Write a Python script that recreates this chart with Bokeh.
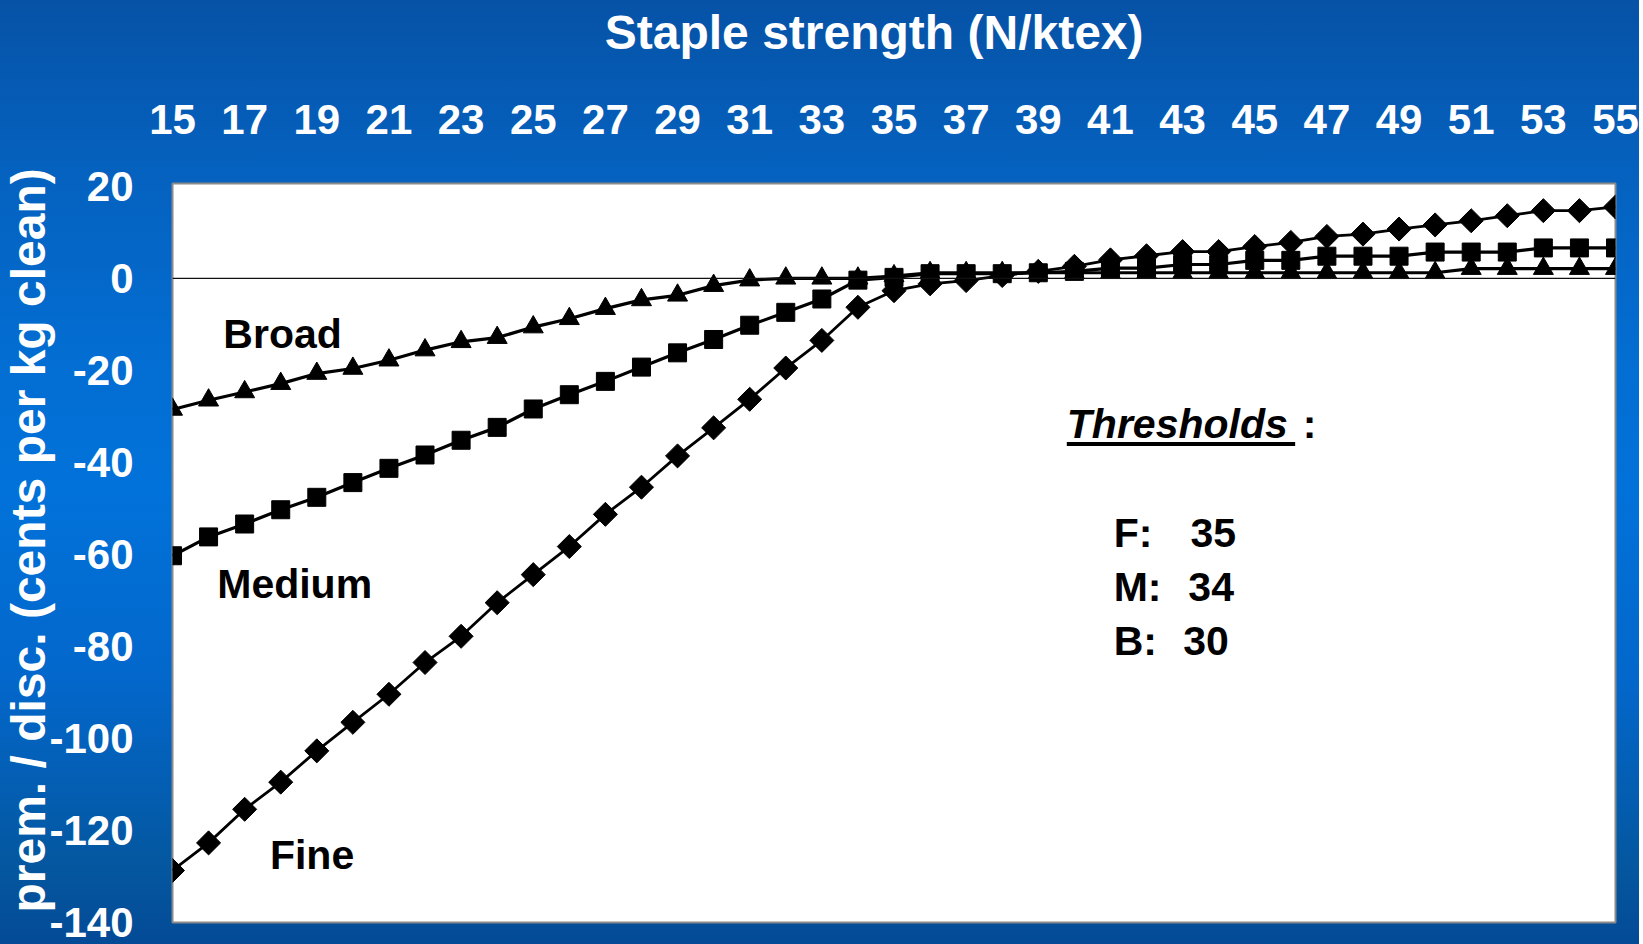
import numpy as np
from bokeh.plotting import figure
from bokeh.models import Range1d, Span, Label, FixedTicker, Title, LinearAxis
from bokeh.embed import file_html
from bokeh.resources import INLINE

# ---- data ----
strength = list(range(15, 56))
fine = [-128.7, -122.7, -115.4, -109.5, -102.7, -96.5, -90.4, -83.5, -77.8, -70.5,
        -64.4, -58.3, -51.3, -45.4, -38.6, -32.5, -26.3, -19.5, -13.5, -6.3,
        -2.7, -1.2, -0.5, 0.6, 1.5, 2.6, 4.0, 4.9, 5.8, 5.8,
        6.9, 7.8, 9.1, 9.6, 10.7, 11.6, 12.5, 13.6, 14.7, 14.7, 15.5]
medium = [-60.3, -56.2, -53.4, -50.3, -47.6, -44.4, -41.3, -38.4, -35.2, -32.4,
          -28.4, -25.3, -22.4, -19.3, -16.2, -13.3, -10.2, -7.4, -4.5, -0.4,
          0.2, 1.0, 1.0, 1.0, 1.2, 1.5, 2.2, 2.2, 3.0, 3.0,
          3.9, 3.9, 4.8, 4.8, 4.8, 5.7, 5.7, 5.7, 6.6, 6.6, 6.6]
broad = [-28.5, -26.5, -24.7, -22.9, -20.7, -19.6, -17.8, -15.6, -13.8, -12.9,
         -10.6, -8.8, -6.6, -4.7, -3.7, -1.6, -0.4, 0.0, 0.0, 0.0,
         0.5, 1.2, 1.2, 1.2, 1.2, 1.2, 1.2, 1.2, 1.2, 1.2,
         1.2, 1.2, 1.2, 1.2, 1.2, 1.2, 2.1, 2.1, 2.1, 2.1, 2.1]
x_ticks = list(range(15, 56, 2))
y_ticks = list(range(-140, 21, 20))
series_names = ["Broad", "Medium", "Fine"]
thresholds = [("F:", "35"), ("M:", "34"), ("B:", "30")]
chart_title = "Staple strength (N/ktex)"
y_title = "prem. / disc. (cents per kg clean)"

FONT = "Liberation Sans"

p = figure(width=1643, height=948,
           x_range=Range1d(15, 55), y_range=Range1d(-140, 20.6),
           x_axis_location="above",
           output_backend="svg", toolbar_location=None,
           min_border_left=176, min_border_right=24,
           min_border_top=187, min_border_bottom=22)
p.margin = (-4, -4, -8, -4)
p.styles = {"background": "linear-gradient(180deg, #0652a6 0%, #0561be 18%, #036dd2 38%, #0172da 52%, #0367cb 72%, #04579f 92%, #044a96 100%)"}
p.border_fill_color = None
p.background_fill_color = "white"
p.outline_line_color = "#8a8a8a"
p.outline_line_width = 2
p.xgrid.visible = False
p.ygrid.visible = False


def style_axis(ax, size):
    ax.axis_line_color = None
    ax.major_tick_line_color = None
    ax.minor_tick_line_color = None
    ax.major_label_text_font = FONT
    ax.major_label_text_font_style = "bold"
    ax.major_label_text_font_size = size
    ax.major_label_text_color = "white"


for ax, ticks in ((p.xaxis[0], x_ticks), (p.yaxis[0], y_ticks)):
    ax.ticker = FixedTicker(ticks=ticks)
    ax.major_label_overrides = {t: str(t) for t in ticks}
    style_axis(ax, "42px")
p.xaxis[0].major_label_standoff = 44
p.yaxis[0].major_label_standoff = 33

# chart title: a second top axis carrying a single label
title_pos = 34.45
title_axis = LinearAxis(ticker=FixedTicker(ticks=[title_pos]),
                        major_label_overrides={title_pos: chart_title})
style_axis(title_axis, "48px")
title_axis.major_label_standoff = 37
p.add_layout(title_axis, "above")

# y-axis title on the left
p.add_layout(Title(text=y_title, align="left", offset=10,
                   standoff=-16, text_font=FONT, text_font_style="bold",
                   text_font_size="48px", text_color="white"), "left")

p.add_layout(Span(location=0, dimension="width", line_color="#111111", line_width=1.3))

p.line(strength, broad, line_color="black", line_width=3.2)
p.scatter(strength, broad, marker="triangle", size=20, color="black")
p.line(strength, medium, line_color="black", line_width=3.2)
p.scatter(strength, medium, marker="square", size=18, color="black")
p.line(strength, fine, line_color="black", line_width=2.8)
p.scatter(strength, fine, marker="square", angle=np.pi / 4, size=17, color="black")

lab_kw = dict(text_font=FONT, text_font_style="bold", text_font_size="41px",
              text_color="black", text_baseline="alphabetic")
for name, (lx, ly) in zip(series_names, [(16.41, -12.0), (16.24, -66.5), (17.7, -125.4)]):
    p.add_layout(Label(x=lx, y=ly, text=name, **lab_kw))

p.add_layout(Label(x=39.79, y=-31.7, text="Thresholds", text_font=FONT,
                   text_font_style="bold italic", text_font_size="41px",
                   text_color="black", text_baseline="alphabetic"))
p.add_layout(Label(x=46.33, y=-31.7, text=":", **lab_kw))
p.segment(x0=[39.79], y0=[-36.0], x1=[46.12], y1=[-36.0], line_color="black", line_width=4)

for (k, v), ly, vx in zip(thresholds, [-55.3, -67.1, -78.9], [43.22, 43.16, 43.02]):
    p.add_layout(Label(x=41.09, y=ly, text=k, **lab_kw))
    p.add_layout(Label(x=vx, y=ly, text=v, **lab_kw))

open("out.html", "w").write(file_html(p, INLINE))
